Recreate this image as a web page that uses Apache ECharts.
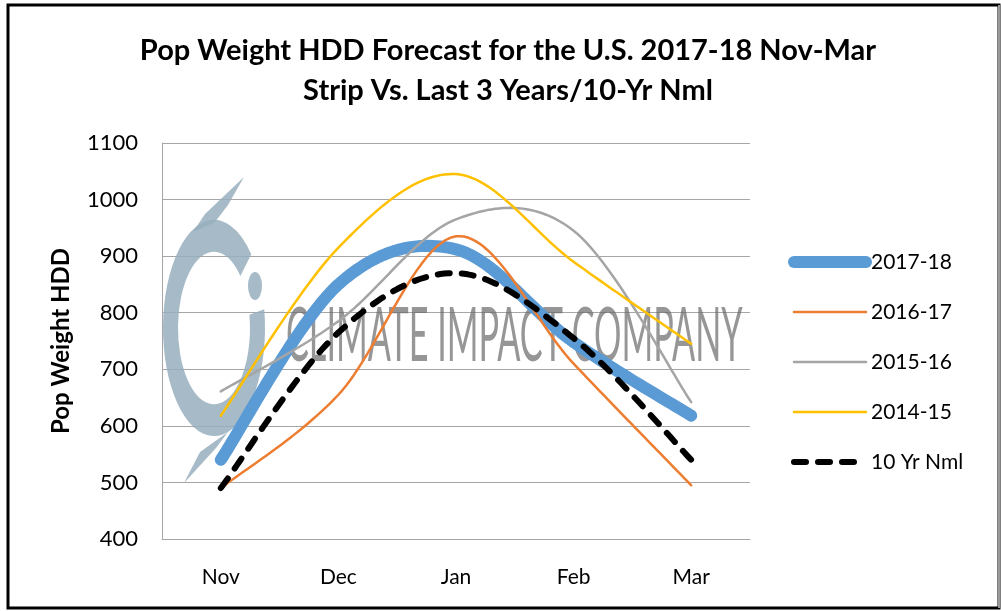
<!DOCTYPE html>
<html>
<head>
<meta charset="utf-8">
<script src="https://cdn.jsdelivr.net/npm/echarts@6/dist/echarts.min.js"></script>
<style>
html,body{margin:0;padding:0;background:#fff;}
#chart{width:1001px;height:611px;}
</style>
</head>
<body>
<div id="chart"></div>
<script>
const categories = ['Nov', 'Dec', 'Jan', 'Feb', 'Mar'];
const s2017_18 = [540, 850, 912, 748, 618];
const s2016_17 = [490, 655, 935, 710, 495];
const s2015_16 = [661, 785, 965, 945, 642];
const s2014_15 = [618, 915, 1045, 890, 745];
const s10yrNml = [490, 765, 870, 755, 540];
const seriesNames = ['2017-18', '2016-17', '2015-16', '2014-15', '10 Yr Nml'];
const yTicks = [400, 500, 600, 700, 800, 900, 1000, 1100];

const FONT = 'Lato';
const chart = echarts.init(document.getElementById('chart'));

const styles = [
  { color: '#5b9bd5', width: 12, dash: null },
  { color: '#ed7d31', width: 2.5, dash: null },
  { color: '#a5a5a5', width: 2.5, dash: null },
  { color: '#ffc000', width: 2.5, dash: null },
  { color: '#000000', width: 6, dash: [12, 12] }
];
const allData = [s2017_18, s2016_17, s2015_16, s2014_15, s10yrNml];

// Excel-like smooth curve (Catmull-Rom Bezier) through the data points, in pixel space
function smoothPoints(pts) {
  const out = [];
  const n = pts.length;
  const steps = 30;
  for (let i = 0; i < n - 1; i++) {
    const p0 = pts[Math.max(i - 1, 0)], p1 = pts[i], p2 = pts[i + 1], p3 = pts[Math.min(i + 2, n - 1)];
    const c1 = [p1[0] + (p2[0] - p0[0]) / 6, p1[1] + (p2[1] - p0[1]) / 6];
    const c2 = [p2[0] - (p3[0] - p1[0]) / 6, p2[1] - (p3[1] - p1[1]) / 6];
    for (let s = (i === 0 ? 0 : 1); s <= steps; s++) {
      const t = s / steps, u = 1 - t;
      const a = u * u * u, b = 3 * u * u * t, c = 3 * u * t * t, d = t * t * t;
      out.push([a * p1[0] + b * c1[0] + c * c2[0] + d * p2[0], a * p1[1] + b * c1[1] + c * c2[1] + d * p2[1]]);
    }
  }
  return out;
}

function curveSeries(idx) {
  const st = styles[idx];
  return {
    type: 'custom', name: '_curve' + idx, z: 3 + idx, silent: true,
    data: allData[idx].map(function (v, i) { return [i, v]; }),
    encode: { x: 0, y: 1 },
    renderItem: function (params, api) {
      if (params.dataIndexInside !== 0) return null;
      const n = params.dataInsideLength;
      const pts = [];
      for (let i = 0; i < n; i++) pts.push(api.coord([api.value(0, i), api.value(1, i)]));
      return {
        type: 'polyline', shape: { points: smoothPoints(pts) },
        style: { stroke: st.color, lineWidth: st.width, fill: null, lineDash: st.dash, lineCap: 'round', lineJoin: 'round' }
      };
    }
  };
}

function legendSeries(idx) {
  const st = styles[idx];
  return {
    name: seriesNames[idx], type: 'line', data: allData[idx], symbol: 'none', silent: true, z: 1,
    lineStyle: { color: st.color, width: st.width, type: st.dash || 'solid', cap: 'round', opacity: 0 },
    itemStyle: { color: st.color }
  };
}

const series = [];
for (let i = 0; i < 5; i++) series.push(legendSeries(i));
for (let i = 0; i < 5; i++) series.push(curveSeries(i));

const logoColor = 'rgba(150,174,189,0.85)';

chart.setOption({
  animation: false,
  backgroundColor: '#fff',
  title: {
    text: 'Pop Weight HDD Forecast for the U.S. 2017-18 Nov-Mar\nStrip Vs. Last 3 Years/10-Yr Nml',
    left: 503, top: 26, textAlign: 'center',
    textStyle: { fontFamily: FONT, fontWeight: 'bold', fontSize: 29, lineHeight: 40, color: '#000' }
  },
  grid: { left: 162, right: 251, top: 143, bottom: 72, containLabel: false },
  legend: {
    orient: 'vertical', left: 783, top: 245,
    itemWidth: 72, itemHeight: 14, itemGap: 26,
    textStyle: { fontFamily: FONT, fontSize: 21, color: '#000', lineHeight: 24 },
    data: seriesNames.map(function (nm, i) {
      return { name: nm, lineStyle: { width: styles[i].width, opacity: 1 }, itemStyle: { opacity: 0 } };
    })
  },
  xAxis: {
    type: 'category', data: categories, boundaryGap: true,
    axisLine: { show: true, lineStyle: { color: '#a6a6a6', width: 1 } },
    axisTick: { show: false },
    axisLabel: { fontFamily: FONT, fontSize: 21, color: '#000', margin: 28 },
    splitLine: { show: false }
  },
  yAxis: {
    type: 'value', min: 400, max: 1100, interval: 100,
    name: 'Pop Weight HDD', nameLocation: 'middle', nameGap: 89, nameRotate: 90,
    nameTextStyle: { fontFamily: FONT, fontWeight: 'bold', fontSize: 24, color: '#000' },
    axisLine: { show: true, lineStyle: { color: '#a6a6a6', width: 1 } },
    axisTick: { show: false },
    axisLabel: { fontFamily: FONT, fontSize: 22, color: '#000', margin: 24,
      formatter: function (v) { return yTicks.indexOf(v) >= 0 ? String(v) : ''; } },
    splitLine: { show: true, lineStyle: { color: '#a6a6a6', width: 1 } }
  },
  graphic: [
    { type: 'rect', z: 100, silent: true, shape: { x: 8, y: 5, width: 991, height: 603 },
      style: { fill: 'none', stroke: '#000', lineWidth: 3 } },
    { type: 'line', z: 101, silent: true, shape: { x1: 999, y1: 5, x2: 999, y2: 608 },
      style: { stroke: '#999', lineWidth: 2 } },
    { type: 'sector', z: 1, silent: true, x: 214, y: 328, scaleY: 2.12,
      shape: { cx: 0, cy: 0, r: 51, r0: 36, startAngle: -10 * Math.PI / 180, endAngle: 317 * Math.PI / 180, clockwise: true },
      style: { fill: logoColor } },
    { type: 'circle', z: 1, silent: true, x: 255, y: 286, scaleY: 2,
      shape: { cx: 0, cy: 0, r: 7 }, style: { fill: logoColor } },
    { type: 'polygon', z: 1, silent: true,
      shape: { points: [[244, 177], [228, 205], [215, 222], [193, 232], [205, 214]] },
      style: { fill: logoColor } },
    { type: 'polygon', z: 1, silent: true,
      shape: { points: [[184, 483], [200, 452], [228, 432], [216, 448]] },
      style: { fill: logoColor } },
    { type: 'text', z: 1, silent: true, x: 286, y: 336, scaleX: 0.45,
      style: { text: 'CLIMATE IMPACT COMPANY', fontFamily: 'Lato', fontWeight: 'normal', fontSize: 76,
        fill: 'rgba(105,105,105,0.7)', textVerticalAlign: 'middle' } }
  ],
  series: series
});
</script>
</body>
</html>
